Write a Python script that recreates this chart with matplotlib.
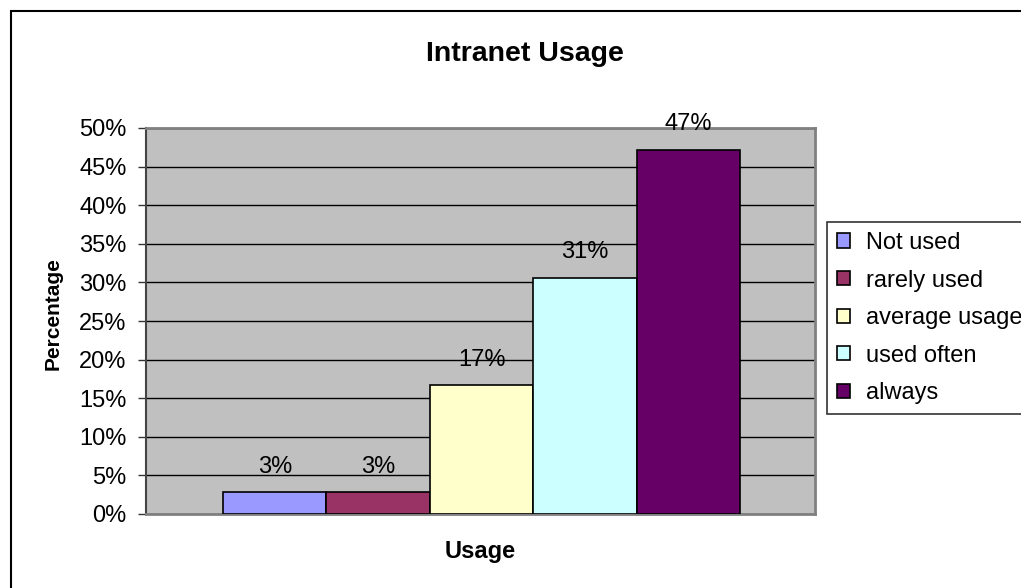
import matplotlib.pyplot as plt
from matplotlib.patches import Rectangle

plt.rcParams['font.family'] = ['Liberation Sans', 'DejaVu Sans']

# data
categories = ['Not used', 'rarely used', 'average usage', 'used often', 'always']
values = [2.8, 2.8, 16.7, 30.6, 47.2]
labels = ['3%', '3%', '17%', '31%', '47%']
colors = ['#9999FF', '#993366', '#FFFFCC', '#CCFFFF', '#660066']
yticks = [0, 5, 10, 15, 20, 25, 30, 35, 40, 45, 50]

fig = plt.figure(figsize=(10.21, 5.88), dpi=100)
ax = fig.add_axes([146 / 1021, 1 - 514 / 588, 669 / 1021, 386 / 588])
ax.set_facecolor('#C0C0C0')
ax.set_axisbelow(True)

bars = []
for i, (cat, v, c) in enumerate(zip(categories, values, colors)):
    b = ax.bar(i, v, width=1.0, color=c, edgecolor='black', linewidth=1.2, label=cat, zorder=3)
    bars.append(b)
    ax.annotate(labels[i], (i, v), xytext=(0, 14), textcoords='offset points',
                ha='center', va='baseline', fontsize=17, zorder=4)

ax.set_xlim(-1.244, 5.22)
ax.set_ylim(0, 50)
ax.set_yticks(yticks)
ax.set_yticklabels([f'{t}%' for t in yticks], fontsize=17)
ax.set_xticks([])
ax.tick_params(axis='y', direction='out', length=6, width=1, pad=8, color='#333333')
ax.yaxis.grid(True, color='black', linewidth=1)

for s in ['top', 'right', 'bottom']:
    ax.spines[s].set_color('#808080')
    ax.spines[s].set_linewidth(2)
ax.spines['left'].set_color('#444444')
ax.spines['left'].set_linewidth(1.5)

ax.set_ylabel('Percentage', fontsize=15, fontweight='bold')
ax.yaxis.set_label_coords(-0.125, 0.518)
ax.set_xlabel('Usage', fontsize=17, fontweight='bold')
ax.xaxis.set_label_coords(0.5, -0.068)

fig.text(525 / 1021, 1 - 54 / 588, 'Intranet Usage', fontsize=20.5, fontweight='bold',
         ha='center', va='center')

leg = fig.legend(handles=[b[0] for b in bars], labels=categories, loc='upper left',
                 bbox_to_anchor=(827 / 1021, 1 - 222 / 588), fontsize=17,
                 handlelength=0.55, handleheight=0.55, handletextpad=0.7,
                 labelspacing=0.66, borderpad=0.42, borderaxespad=0, fancybox=False)
leg.get_frame().set_edgecolor('black')
leg.get_frame().set_linewidth(1.2)

# outer chart frame
fig.patches.append(Rectangle((11 / 1021, -0.1), 1.2, 1.1 - 11 / 588,
                             transform=fig.transFigure, fill=False,
                             edgecolor='black', linewidth=1.5, zorder=0))

fig.savefig('out.png', dpi=100)
